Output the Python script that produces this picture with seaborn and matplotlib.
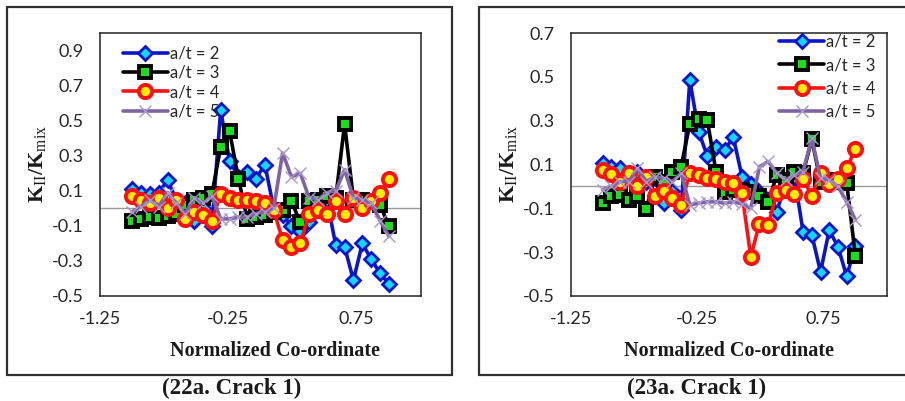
import numpy as np
import pandas as pd
import seaborn as sns
import matplotlib
matplotlib.use('Agg')
import matplotlib.pyplot as plt
from matplotlib.lines import Line2D

# normalized co-ordinate of the 30 nodes along the crack
x_coord = [-1.0, -0.931, -0.862, -0.793, -0.724, -0.655, -0.586, -0.517, -0.448, -0.379,
           -0.310, -0.241, -0.172, -0.103, -0.034, 0.034, 0.103, 0.172, 0.241, 0.310,
           0.379, 0.448, 0.517, 0.586, 0.655, 0.724, 0.793, 0.862, 0.931, 1.0]

labels = ['a/t = 2', 'a/t = 3', 'a/t = 4', 'a/t = 5']

# (22a. Crack 1)
k22_at2 = [0.11, 0.09, 0.08, 0.09, 0.16, 0.05, 0.03, -0.07, 0.0, -0.1,
           0.56, 0.27, 0.18, 0.21, 0.17, 0.25, 0.0, -0.04, -0.1, -0.13,
           -0.08, 0.03, 0.05, -0.21, -0.22, -0.41, -0.2, -0.29, -0.37, -0.43]
k22_at3 = [-0.075, -0.06, -0.05, -0.055, -0.045, -0.03, 0.02, 0.05, 0.06, 0.08,
           0.35, 0.44, 0.17, -0.06, -0.05, -0.04, -0.02, -0.01, 0.04, -0.08,
           0.04, 0.05, 0.07, 0.06, 0.48, 0.05, 0.05, 0.04, 0.02, -0.1]
k22_at4 = [0.068, 0.05, 0.03, 0.06, 0.0, 0.05, -0.06, -0.02, -0.04, -0.07,
           0.08, 0.06, 0.05, 0.05, 0.04, 0.03, -0.01, -0.18, -0.22, -0.2,
           -0.03, -0.01, -0.03, 0.04, -0.03, 0.06, 0.0, 0.04, 0.09, 0.17]
k22_at5 = [-0.02, 0.01, 0.05, 0.01, 0.09, 0.03, -0.03, 0.06, 0.03, 0.07,
           -0.06, -0.06, -0.05, -0.05, -0.03, -0.02, 0.0, 0.315, 0.18, 0.2,
           0.06, 0.05, 0.09, 0.1, 0.22, 0.06, 0.05, 0.03, -0.07, -0.16]

# (23a. Crack 1)
k23_at2 = [0.106, 0.09, 0.083, 0.06, 0.068, 0.02, 0.04, -0.077, -0.02, -0.107,
           0.486, 0.25, 0.14, 0.18, 0.167, 0.225, 0.045, 0.011, -0.024, -0.06,
           -0.115, 0.02, 0.045, -0.206, -0.22, -0.39, -0.2, -0.275, -0.41, -0.27]
k23_at3 = [-0.077, -0.046, -0.038, -0.06, -0.046, -0.104, 0.045, 0.022, 0.068, 0.09,
           0.285, 0.307, 0.304, 0.068, -0.024, -0.016, -0.016, -0.024, -0.046, -0.069,
           0.052, 0.03, 0.068, 0.06, 0.215, 0.022, 0.03, 0.022, 0.015, -0.317]
k23_at4 = [0.075, 0.057, 0.022, 0.063, 0.0, 0.045, -0.046, -0.019, -0.054, -0.084,
           0.063, 0.052, 0.037, 0.034, 0.022, 0.015, -0.031, -0.32, -0.17, -0.176,
           -0.031, -0.016, -0.036, 0.034, -0.042, 0.06, 0.01, 0.033, 0.083, 0.17]
k23_at5 = [-0.015, 0.0, 0.022, 0.022, 0.083, 0.022, 0.045, 0.037, 0.022, 0.06,
           -0.084, -0.077, -0.07, -0.07, -0.077, -0.07, -0.08, -0.1, 0.09, 0.114,
           0.06, 0.03, 0.052, 0.068, 0.22, 0.037, 0.03, 0.0, -0.07, -0.153]

sns.set_style('white')
plt.rcParams['font.family'] = ['Lato', 'DejaVu Sans']
plt.rcParams['mathtext.fontset'] = 'custom'
plt.rcParams['mathtext.rm'] = 'Liberation Serif'

styles = [
    dict(color='#0a14c8', marker='D', markersize=7.5, markerfacecolor='#10d8ff',
         markeredgecolor='#0a14c8', markeredgewidth=2.0, linewidth=2.6),
    dict(color='black', marker='s', markersize=9, markerfacecolor='#18e018',
         markeredgecolor='black', markeredgewidth=2.8, linewidth=2.6),
    dict(color='#ff1010', marker='o', markersize=9.5, markerfacecolor='#ffee00',
         markeredgecolor='#ff1010', markeredgewidth=2.8, linewidth=2.6),
    dict(color='#8064a2', marker='x', markersize=9, markeredgecolor='#a898cc',
         markeredgewidth=1.0, linewidth=2.6),
]

W, H = 905, 401
fig = plt.figure(figsize=(W / 100, H / 100), dpi=100)


def px_axes(x0, y0, x1, y1):
    return fig.add_axes([x0 / W, 1 - y1 / H, (x1 - x0) / W, (y1 - y0) / H])


def panel(ax, series, ylim, yticks, legend_loc, legend_anchor, spacing, label_x):
    ax.axhline(0, color='#9a9a9a', linewidth=1.0, zorder=1)
    for ys, lab, st in zip(series, labels, styles):
        df = pd.DataFrame({'x': x_coord, 'k': ys})
        sns.lineplot(data=df, x='x', y='k', ax=ax, label=lab, **st)
    ax.set_xlim(-1.25, 1.25)
    ax.set_ylim(*ylim)
    ax.set_xticks([-1.25, -0.25, 0.75])
    ax.set_xticklabels(['-1.25', '-0.25', '0.75'])
    ax.set_yticks(yticks)
    ax.set_yticklabels([f'{v:.1f}' for v in yticks])
    ax.tick_params(length=0, labelsize=13, colors='#262626')
    ax.tick_params(axis='y', pad=12)
    ax.tick_params(axis='x', pad=11)
    for s in ax.spines.values():
        s.set_color('#222222')
        s.set_linewidth(1.1)
    ax.set_xlabel('Normalized Co-ordinate', family='Liberation Serif',
                  fontweight='bold', fontsize=14.5, color='#1a1a1a')
    ax.xaxis.set_label_coords(label_x, -0.17)
    ax.set_ylabel(r'K$_{\mathrm{II}}$/K$_{\mathrm{mix}}$', family='Liberation Serif',
                  fontweight='bold', fontsize=16, color='#1a1a1a')
    ax.yaxis.set_label_coords(-0.16, 0.5)
    ax.legend(loc=legend_loc, bbox_to_anchor=legend_anchor, frameon=False,
              fontsize=12, handlelength=2.7, handletextpad=0.1,
              labelspacing=spacing, borderaxespad=0.2)


ax1 = px_axes(100, 33, 421, 296)
panel(ax1, [k22_at2, k22_at3, k22_at4, k22_at5], (-0.5, 1.0),
      [-0.5, -0.3, -0.1, 0.1, 0.3, 0.5, 0.7, 0.9], 'upper left', (0.04, 0.99), 0.2, 0.545)

ax2 = px_axes(571, 33, 887, 296)
panel(ax2, [k23_at2, k23_at3, k23_at4, k23_at5], (-0.5, 0.7),
      [-0.5, -0.3, -0.1, 0.1, 0.3, 0.5, 0.7], 'upper right', (0.995, 1.035), 0.44, 0.5)

# outer frames of the two sub-figures
def frame(x0, x1, right=True):
    kw = dict(color='#303030', linewidth=1.6, transform=fig.transFigure)
    yt, yb = 1 - 7 / H, 1 - 375 / H
    fig.add_artist(Line2D([x0 / W, x0 / W], [yb, yt], **kw))
    fig.add_artist(Line2D([x0 / W, x1 / W], [yt, yt], **kw))
    fig.add_artist(Line2D([x0 / W, x1 / W], [yb, yb], **kw))
    if right:
        fig.add_artist(Line2D([x1 / W, x1 / W], [yb, yt], **kw))


frame(7, 452)
frame(479, 910, right=False)

fig.text(232 / W, 1 - 388 / H, '(22a. Crack 1)', ha='center', va='center',
         family='Liberation Serif', fontweight='bold', fontsize=16.5, color='#1a1a1a')
fig.text(697 / W, 1 - 388 / H, '(23a. Crack 1)', ha='center', va='center',
         family='Liberation Serif', fontweight='bold', fontsize=16.5, color='#1a1a1a')

fig.savefig('out.png', dpi=100)
